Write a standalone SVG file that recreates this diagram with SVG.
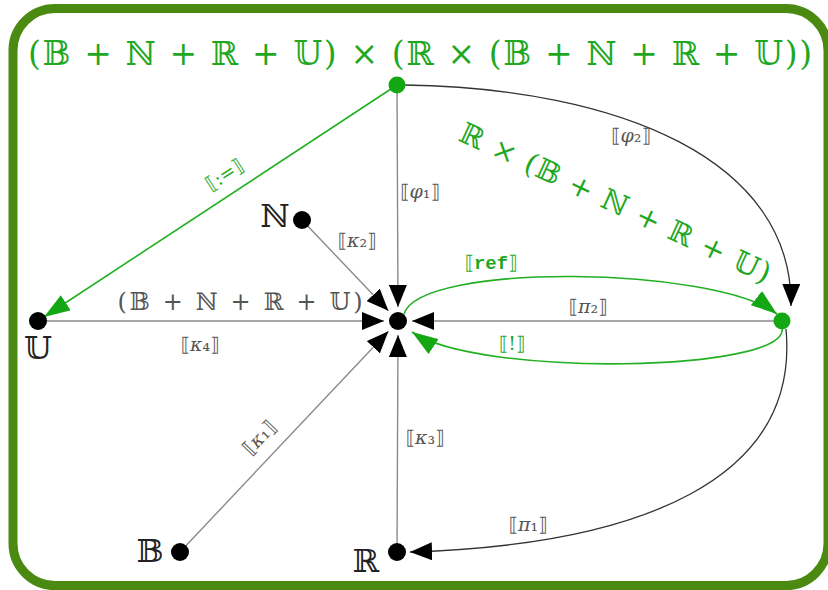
<svg xmlns="http://www.w3.org/2000/svg" width="828" height="590" viewBox="0 0 828 590">
<style>
.frame{fill:#fff;stroke:#4a8a10;stroke-width:9}
.gray{stroke:#8a8a8a;stroke-width:1.4;fill:none}
.blk{stroke:#333;stroke-width:1.3;fill:none}
.grn{stroke:#22b022;stroke-width:1.6;fill:none}
.nb{fill:#000}
.ng{fill:#13a813}
.m{font-family:"DejaVu Serif","DejaVu Sans",serif}
.lbl{font-family:"DejaVu Serif","DejaVu Sans",serif;font-size:19px;fill:#555;text-anchor:middle}
.glbl{font-family:"DejaVu Serif","DejaVu Sans",serif;font-size:19px;fill:#1fa81f;text-anchor:middle}
.big{font-family:"DejaVu Serif","DejaVu Sans",serif;font-size:32px;fill:#222;text-anchor:middle}
.it{font-style:italic}
</style>
<defs>
<marker id="ab" markerUnits="userSpaceOnUse" markerWidth="22" markerHeight="18" refX="22" refY="9" orient="auto">
<path d="M0,0 L22,9 L0,18 z" fill="#000"/>
</marker>
<marker id="ag" markerUnits="userSpaceOnUse" markerWidth="26" markerHeight="18" refX="26" refY="9" orient="auto">
<path d="M0,0 L26,9 L0,18 z" fill="#13a813"/>
</marker>
</defs>
<rect class="frame" x="13" y="8.5" width="815" height="577" rx="42" ry="42"/>
<text class="m" x="420" y="65" font-size="33" fill="#1fa81f" text-anchor="middle" textLength="784" lengthAdjust="spacing">(𝔹 + ℕ + ℝ + 𝕌) × (ℝ × (𝔹 + ℕ + ℝ + 𝕌))</text>
<g id="connectors">
<line class="gray" x1="397" y1="85" x2="398" y2="307" marker-end="url(#ab)"/>
<line class="gray" x1="38" y1="321" x2="384" y2="321" marker-end="url(#ab)"/>
<line class="gray" x1="782" y1="321" x2="412" y2="321" marker-end="url(#ab)"/>
<line class="gray" x1="397" y1="552" x2="398" y2="335" marker-end="url(#ab)"/>
<line class="gray" x1="302" y1="220" x2="388.4" y2="310.8" marker-end="url(#ab)"/>
<line class="gray" x1="180" y1="552" x2="388.4" y2="331.2" marker-end="url(#ab)"/>
<line class="grn" x1="397" y1="85" x2="44" y2="317" marker-end="url(#ag)"/>
<path class="blk" d="M404,85 C620,88 793,160 791,306" marker-end="url(#ab)"/>
<path class="blk" d="M786,329 C800,480 640,545 410,552" marker-end="url(#ab)"/>
<path class="grn" d="M404,314 C420,262 715,266 777,314" marker-end="url(#ag)"/>
<path class="grn" d="M782,328 C790,372 480,378 412,332" marker-end="url(#ag)"/>
<text class="lbl" x="420" y="198">⟦<tspan class="it">φ</tspan>₁⟧</text>
<text class="lbl" x="631" y="142">⟦<tspan class="it">φ</tspan>₂⟧</text>
<text class="lbl" x="357" y="247">⟦<tspan class="it">κ</tspan>₂⟧</text>
<text class="lbl" x="200" y="351">⟦<tspan class="it">κ</tspan>₄⟧</text>
<text class="lbl" x="425" y="444">⟦<tspan class="it">κ</tspan>₃⟧</text>
<text class="lbl" x="588" y="313">⟦<tspan class="it">π</tspan>₂⟧</text>
<text class="lbl" x="528" y="531">⟦<tspan class="it">π</tspan>₁⟧</text>
<text class="lbl" transform="translate(264,442) rotate(-46)">⟦<tspan class="it">κ</tspan>₁⟧</text>
<text class="m" x="240" y="310" font-size="24" fill="#555" text-anchor="middle" textLength="245" lengthAdjust="spacing">(𝔹 + ℕ + ℝ + 𝕌)</text>
<text class="glbl" x="491" y="269">⟦<tspan font-family="Liberation Mono,monospace" font-weight="bold">ref</tspan>⟧</text>
<text class="glbl" x="512" y="350">⟦!⟧</text>
<text class="glbl" font-size="21" transform="translate(228,180) rotate(-33)">⟦:=⟧</text>
<text class="m" transform="translate(457,140) rotate(25)" font-size="29" fill="#1fa81f" textLength="340" lengthAdjust="spacing">ℝ × (𝔹 + ℕ + ℝ + 𝕌)</text>
</g>
<g id="node-top"><circle class="ng" cx="397" cy="85" r="8.5"/></g>
<g id="node-center"><circle class="nb" cx="398" cy="321" r="9"/></g>
<g id="node-right"><circle class="ng" cx="782" cy="321" r="8.5"/></g>
<g id="node-U"><circle class="nb" cx="38" cy="321" r="9"/><text class="big" x="38" y="359">𝕌</text></g>
<g id="node-N"><circle class="nb" cx="302" cy="220" r="9"/><text class="big" x="275" y="227">ℕ</text></g>
<g id="node-B"><circle class="nb" cx="180" cy="552" r="9"/><text class="big" x="150" y="562">𝔹</text></g>
<g id="node-R"><circle class="nb" cx="397" cy="552" r="9"/><text class="big" x="366" y="572">ℝ</text></g>
</svg>
